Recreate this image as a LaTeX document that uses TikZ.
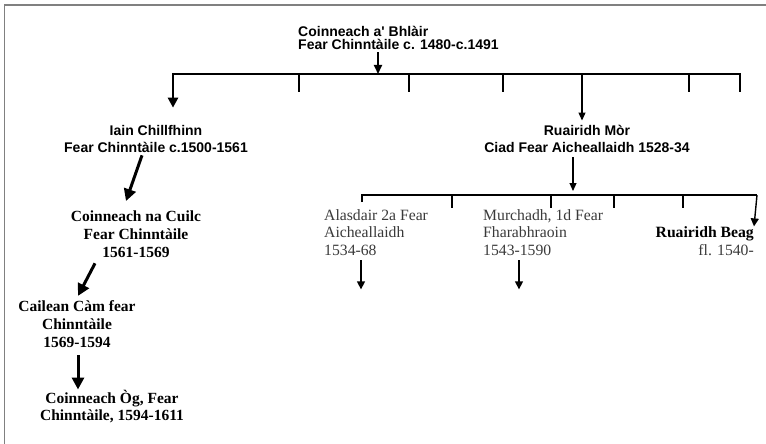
\documentclass[tikz,border=0pt]{standalone}
\usepackage{fontspec}
\setmainfont{Liberation Serif}
\newfontfamily\arialf{Liberation Sans}
\usetikzlibrary{arrows.meta,calc}
\definecolor{frame}{HTML}{808080}
\definecolor{txtgray}{HTML}{3A3A3A}
\begin{document}
\begin{tikzpicture}[x=1pt,y=-1pt,
  sanshead/.style={font=\arialf\bfseries\fontsize{14}{13.5}\selectfont, inner sep=0, align=left},
  sanslbl/.style={font=\arialf\bfseries\fontsize{14}{17}\selectfont, inner sep=0, align=center, anchor=base},
  serifbold/.style={font=\bfseries\fontsize{15.5}{18}\selectfont, inner sep=0, align=center, anchor=base},
  serifreg/.style={font=\fontsize{15.7}{17.5}\selectfont, text=txtgray, inner sep=0, align=left, anchor=base west},
  busline/.style={line width=2.5pt},
  tickline/.style={line width=2.5pt},
  bus2line/.style={line width=2pt},
  tick2line/.style={line width=1.5pt},
  headarr/.style={line width=2pt, -{Triangle[length=9pt,width=8pt]}},
  leftarr/.style={line width=2.5pt, -{Triangle[length=10pt,width=10pt]}},
  thinarr/.style={line width=1.1pt, -{Triangle[length=8pt,width=7pt]}},
  diagarr/.style={line width=3pt, -{Triangle[length=12pt,width=12pt]}},
  smallarr/.style={line width=1.4pt, -{Triangle[length=8pt,width=8pt]}}
]
\useasboundingbox (0,0) rectangle (766,444);
% frame (top and left edges)
\draw[frame, line width=1.7pt] (4.5,444) -- (4.5,5) -- (766,5);

% nodes (base anchor = baseline of the last line)
\node[sanshead, anchor=base west] (top) at (298,50) {Coinneach a\textquotesingle\ Bhlàir\\Fear Chinntàile c. 1480-c.1491};
\node[sanslbl] (iain) at (156,152) {Iain Chillfhinn\\Fear Chinntàile c.1500-1561};
\node[sanslbl] (mor) at (587,152) {Ruairidh Mòr\\Ciad Fear Aicheallaidh 1528-34};
\node[serifbold] (cuilc) at (136,257) {Coinneach na Cuilc\\Fear Chinntàile\\1561-1569};
\node[serifbold] (cailean) at (77,347) {Cailean Càm fear\\Chinntàile\\1569-1594};
\node[serifbold, font=\bfseries\fontsize{15.5}{17}\selectfont] (og) at (112,420) {Coinneach Òg, Fear\\Chinntàile, 1594-1611};
\node[serifreg] (alasdair) at (324,255) {Alasdair 2a Fear\\Aicheallaidh\\1534-68};
\node[serifreg] (murchadh) at (483,255) {Murchadh, 1d Fear\\Fharabhraoin\\1543-1590};
\node[serifreg, anchor=base east, align=right] (beag) at (754,255) {\textcolor{black}{\bfseries Ruairidh Beag}\\fl. 1540-};

% first generation bar
\coordinate (b1a) at (173,74);
\coordinate (b1m) at (378,74);
\coordinate (b1r) at (582,74);
\coordinate (b1z) at (740,74);
\draw[busline] (b1a) -- (b1z) -- ++(0,18);
\foreach \x in {299,409,503,689} \draw[tickline] (\x,73) -- (\x,92);
\draw[headarr] (top.south -| b1m) ++(0,2) -- (b1m);
\draw[leftarr] ([yshift=1.2pt]b1a) -- ($(b1a |- iain.north)+(0,-17)$);
\draw[thinarr] (b1r) -- ($(mor.north -| b1r)+(0,-4)$);

% left line of descent
\draw[diagarr] ($(iain.south)+(-14,3)$) -- ($(cuilc.north)+(-10,-9)$);
\draw[diagarr] ($(cuilc.south)+(-41,6)$) -- ($(cailean.north)+(1,-4)$);
\draw[diagarr] ($(cailean.south)+(1,8)$) -- ($(og.north)+(-34,0)$);

% second generation bar
\coordinate (b2a) at (362,195);
\coordinate (b2m) at (573,195);
\coordinate (b2z) at (757,195);
\draw[thinarr] ($(mor.south -| b2m)+(0,5)$) -- ($(b2m)+(0,-4)$);
\draw[bus2line] ($(b2a)+(0,7)$) -- (b2a) -- (b2z);
\foreach \x in {452,551,614,683} \draw[tick2line] (\x,195) -- (\x,208);
\draw[smallarr] (b2z) -- (beag.north east);
\draw[smallarr] ($(alasdair.south west)+(37,5)$) -- ++(0,29);
\draw[smallarr] ($(murchadh.south west)+(36,5)$) -- ++(0,29);
\end{tikzpicture}
\end{document}
